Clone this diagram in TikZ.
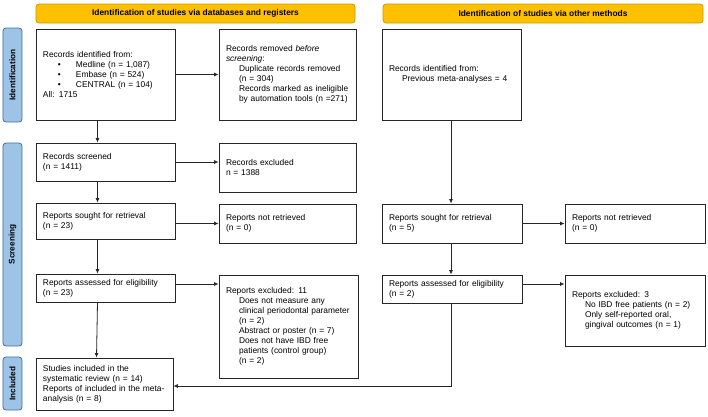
\documentclass[tikz,border=0pt]{standalone}
\usepackage{fontspec}
\setmainfont{Liberation Sans}
\usetikzlibrary{arrows.meta}
\definecolor{hdrfill}{HTML}{FFC000}
\definecolor{hdrdraw}{HTML}{C99A06}
\definecolor{sidefill}{HTML}{9DC3E6}
\definecolor{sidedraw}{HTML}{41719C}
\newcommand{\ind}{\hspace*{13bp}}
\newcommand{\bul}{\hspace*{15bp}\makebox[18bp][l]{\textbullet}}
\begin{document}
\begin{tikzpicture}[x=1bp,y=-1bp,
  txt/.style={font=\fontsize{8.4bp}{10bp}\selectfont},
  bx/.style={txt,draw=black!85,line width=0.8bp,align=left,inner xsep=7bp,inner ysep=2bp},
  hdr/.style={draw=hdrdraw,fill=hdrfill,line width=0.8bp,rounded corners=3bp,
    font=\bfseries\fontsize{8.4bp}{10bp}\selectfont,minimum height=19bp,inner sep=0pt},
  side/.style={draw=sidedraw,fill=sidefill,line width=0.8bp,rounded corners=3bp,rotate=90,
    font=\bfseries\fontsize{8.2bp}{10bp}\selectfont,minimum height=19bp,inner sep=0pt},
  arr/.style={draw=black!85,line width=0.8bp,-{Latex[length=4.5bp,width=4bp]}}]
\useasboundingbox[fill=white] (0,0) rectangle (708,416);

% headers
\node[hdr,minimum width=319bp] (h1) at (195.5,13.5) {Identification of studies via databases and registers};
\node[hdr,minimum width=320bp] (h2) at (543,13.5) {Identification of studies via other methods};

% side bars
\node[side,minimum width=94bp] (s1) at (12.5,75) {Identification};
\node[side,minimum width=203bp] (s2) at (12.5,244.5) {Screening};
\node[side,minimum width=53bp] (s3) at (12.5,383.5) {Included};

% left column
\node[bx,text width=125bp,minimum height=91bp] (A) at (105.5,74.5) {Records identified from:\\
\bul Medline (n = 1,087)\\
\bul Embase (n = 524)\\
\bul CENTRAL (n = 104)\\
All: 1715};
\node[bx,text width=123bp,minimum height=91bp] (B) at (287.5,74.5) {Records removed \textit{before}\\
\textit{screening}:\\
\ind Duplicate records removed\\
\ind (n = 304)\\
\ind Records marked as ineligible\\
\ind by automation tools (n =271)};
\node[bx,text width=125bp,minimum height=38bp] (C) at (105.5,162) {Records screened\\(n = 1411)};
\node[bx,text width=123bp,minimum height=49bp] (D) at (287.5,167.5) {Records excluded\\n = 1388};
\node[bx,text width=125bp,minimum height=36bp] (E) at (105.5,221) {Reports sought for retrieval\\(n = 23)};
\node[bx,text width=123bp,minimum height=39bp] (F) at (287.5,223.5) {Reports not retrieved\\(n = 0)};
\node[bx,text width=125bp,minimum height=28bp] (G) at (105.5,288) {Reports assessed for eligibility\\(n = 23)};
\node[bx,text width=125bp,minimum height=103bp] (H) at (288.5,326.5) {Reports excluded: 11\\
\ind Does not measure any\\
\ind clinical periodontal parameter\\
\ind (n = 2)\\
\ind Abstract or poster (n = 7)\\
\ind Does not have IBD free\\
\ind patients (control group)\\
\ind (n = 2)};
\node[bx,text width=123bp,minimum height=52bp] (I) at (104.5,384) {Studies included in the\\
systematic review (n = 14)\\
Reports of included in the meta-\\
analysis (n = 8)};

% right column
\node[bx,text width=125bp,minimum height=91bp] (A2) at (451.5,74.5) {Records identified from:\\
\ind Previous meta-analyses = 4};
\node[bx,text width=126bp,minimum height=39bp] (E2) at (452,223.5) {Reports sought for retrieval\\(n = 5)};
\node[bx,text width=126bp,minimum height=39bp] (F2) at (635,223.5) {Reports not retrieved\\(n = 0)};
\node[bx,text width=126bp,minimum height=28bp] (G2) at (452,289) {Reports assessed for eligibility\\(n = 2)};
\node[bx,text width=126bp,minimum height=71bp] (H2) at (635,310.5) {Reports excluded: 3\\
\ind No IBD free patients (n = 2)\\
\ind Only self-reported oral,\\
\ind gingival outcomes (n = 1)};

% connectors left
\draw[arr] ([xshift=-8bp]A.south) -- ([xshift=-8bp]C.north);
\draw[arr] ([xshift=-8bp]C.south) -- ([xshift=-8bp]E.north);
\draw[arr] ([xshift=-8bp]E.south) -- ([xshift=-8bp]G.north);
\draw[arr] ([xshift=-8bp]G.south) -- ([xshift=-8bp]I.north);
\draw[arr] (A.east) -- (A.east -| B.west);
\draw[arr] (C.east) -- (C.east -| D.west);
\draw[arr] (E.east |- F.west) -- (F.west);
\draw[arr] ([yshift=4bp]G.east) -- ([yshift=4bp]G.east -| H.west);

% connectors right
\draw[arr] ([xshift=-0.5bp]A2.south) -- ([xshift=-1bp]E2.north);
\draw[arr] ([xshift=-1bp]E2.south) -- ([xshift=-1bp]G2.north);
\draw[arr] (E2.east) -- (F2.west);
\draw[arr] ([yshift=5bp]G2.east) -- ([yshift=5bp]G2.east -| H2.west);
\draw[arr] ([xshift=-1bp]G2.south) |- ([yshift=-2bp]I.east);
\end{tikzpicture}
\end{document}
